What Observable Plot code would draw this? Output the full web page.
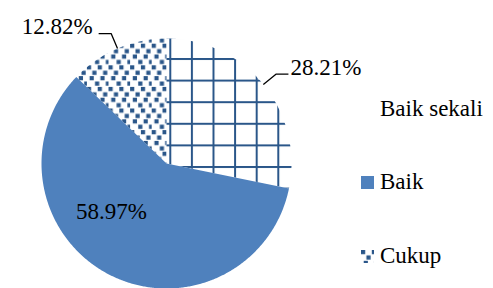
<!DOCTYPE html>
<html><head><meta charset="utf-8">
<script src="https://cdn.jsdelivr.net/npm/d3@7"></script>
<script src="https://cdn.jsdelivr.net/npm/@observablehq/plot@0.6"></script>
<style>
html,body{margin:0;padding:0;background:#fff;}
#wrap{position:relative;width:493px;height:288px;overflow:hidden;}
.leg{position:absolute;left:361px;font-family:'Liberation Serif';font-size:23px;line-height:23px;color:#000;white-space:nowrap;}
.leg svg{position:absolute;left:0;top:6px;}
.leg span{position:absolute;left:19px;top:0;font-family:'Liberation Serif';}
</style></head><body>
<svg width="0" height="0" style="position:absolute">
<defs>
<pattern id="grid" patternUnits="userSpaceOnUse" width="21.6" height="21.6" x="17.6" y="14.3">
  <rect x="0" y="0" width="2" height="21.6" fill="#2a5689"/>
  <rect x="0" y="0" width="21.6" height="2" fill="#2a5689"/>
</pattern>
<pattern id="dots" patternUnits="userSpaceOnUse" width="21.6" height="21.6" x="0" y="0"></pattern>
</defs></svg>
<div id="wrap"></div>
<script>
// ---- data ----
const categories = ["Baik sekali", "Baik", "Cukup"];
const percents = [28.21, 58.97, 12.82];
const labels = ["28.21%", "58.97%", "12.82%"];

// ---- styles ----
const fills = ["url(#grid)", "#4f81bd", "url(#dots)"];
const font = "Liberation Serif";

// dots pattern tiles (confetti-like)
const dotCells = [[0,0],[4,0],[2,2],[6,2],[1,4],[5,4],[3,6],[7,6]];
const pat = d3.select("#dots");
dotCells.forEach(([c, r]) => pat.append("rect").attr("x", c * 2.7).attr("y", r * 2.7)
  .attr("width", 4.2).attr("height", 4.2).attr("fill", "#2a5689"));

// ---- geometry from data ----
const arcs = d3.pie().sort(null).value(d => d)(percents);
const polys = arcs.map((a, i) => {
  const pts = [{x: 0, y: 0}];
  const n = Math.max(2, Math.ceil((a.endAngle - a.startAngle) / (Math.PI / 360)));
  for (let k = 0; k <= n; k++) {
    const t = a.startAngle + (a.endAngle - a.startAngle) * k / n;
    pts.push({x: Math.sin(t), y: -Math.cos(t)});
  }
  return pts;
});

const outside = [], inside = [], leaders = [];
arcs.forEach((a, i) => {
  const m = (a.startAngle + a.endAngle) / 2;
  if (percents[i] < 40) {
    const ux = Math.sin(m), uy = -Math.cos(m);
    const side = ux >= 0 ? 1 : -1;
    const ex = ux * 1.13, ey = uy * 1.13;
    const hx = ex + side * 0.1;
    leaders.push([{x: ux, y: uy}, {x: ex, y: ey}, {x: hx, y: ey}]);
    outside.push({x: hx, y: ey, text: labels[i], side});
  } else {
    const t = m + 21 * Math.PI / 180;
    inside.push({x: 0.585 * Math.sin(t), y: -0.585 * Math.cos(t), text: labels[i]});
  }
});

const textOpts = {x: "x", y: "y", text: "text", fontSize: 23, fontFamily: font, fill: "#000"};
const plot = Plot.plot({
  width: 493, height: 288,
  style: {overflow: "visible", background: "transparent", fontFamily: font},
  x: {domain: [-1, 1], range: [41, 291], axis: null},
  y: {domain: [-1, 1], range: [38, 288], axis: null},
  marks: [
    ...polys.map((p, i) => Plot.line(p, {x: "x", y: "y", curve: "linear-closed", fill: fills[i], stroke: "none"})),
    ...leaders.map(l => Plot.line(l, {x: "x", y: "y", stroke: "#000", strokeWidth: 1.3, strokeLinecap: "butt", strokeLinejoin: "miter"})),
    Plot.text(outside.filter(d => d.side > 0), {...textOpts, textAnchor: "start", dx: 2, dy: -7}),
    Plot.text(outside.filter(d => d.side < 0), {...textOpts, textAnchor: "end", dx: -6, dy: -7}),
    Plot.text(inside, {...textOpts, textAnchor: "middle"})
  ]
});
const wrap = document.getElementById("wrap");
wrap.appendChild(plot);

// ---- legend (HTML, overlaid on the right) ----
categories.forEach((c, i) => {
  const row = document.createElement("div");
  row.className = "leg";
  row.style.top = (97 + i * 73.3) + "px";
  row.innerHTML = `<svg width="13" height="13"><rect width="13" height="13" fill="${fills[i]}"/></svg><span></span>`;
  row.querySelector("span").textContent = c;
  wrap.appendChild(row);
});
</script>
</body></html>
